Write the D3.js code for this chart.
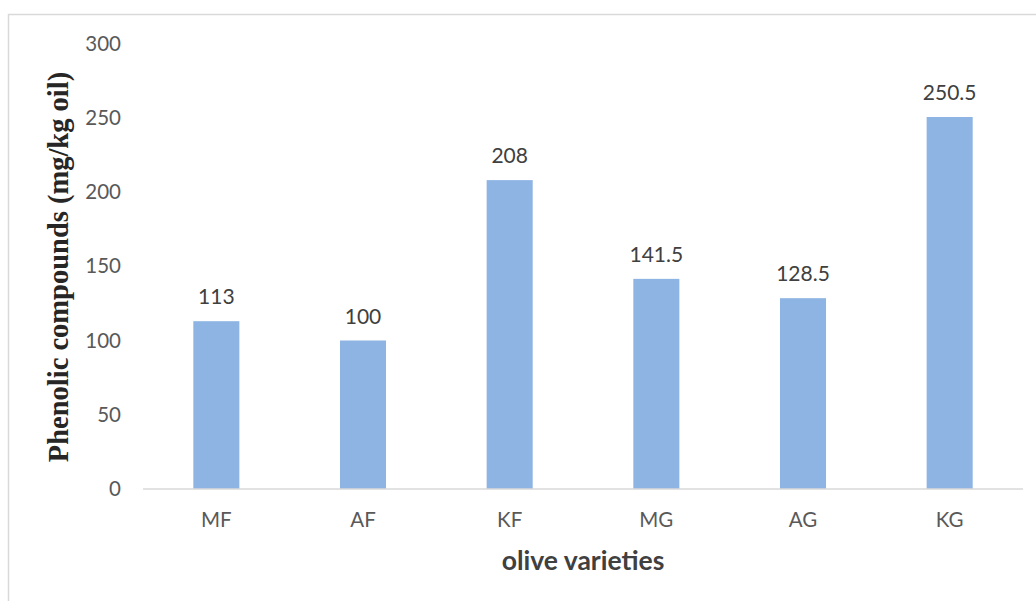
<!DOCTYPE html>
<html>
<head>
<meta charset="utf-8">
<script src="https://cdn.jsdelivr.net/npm/d3@7"></script>
<style>
  body { margin: 0; background: #fff; }
  svg { display: block; }
</style>
</head>
<body>
<svg id="chart" width="1036" height="601"></svg>
<script>
// chart data
const categories = ["MF", "AF", "KF", "MG", "AG", "KG"];
const values = [113, 100, 208, 141.5, 128.5, 250.5];
const yTicks = [0, 50, 100, 150, 200, 250, 300];

const svg = d3.select("#chart");
const margin = {left: 143, right: 13, top: 43.5, bottom: 112};
const W = 1036, H = 601;

// outer chart border
svg.append("rect")
    .attr("x", 8.5).attr("y", 14.5)
    .attr("width", 1040).attr("height", 600)
    .attr("fill", "none")
    .attr("stroke", "#d9d9d9")
    .attr("stroke-width", 1.5);

let x = d3.scaleBand()
    .domain(categories)
    .range([margin.left, W - margin.right])
    .paddingInner(0.686)
    .paddingOuter(0.343);

let y = d3.scaleLinear()
    .domain([0, 300])
    .range([H - margin.bottom, margin.top]);

// y tick labels (no gridlines)
svg.append("g")
    .selectAll("text")
    .data(yTicks)
    .join("text")
    .attr("x", 121)
    .attr("y", d => y(d))
    .attr("dy", "0.35em")
    .attr("text-anchor", "end")
    .attr("font-family", "Lato, 'Open Sans', sans-serif")
    .attr("font-size", 20.5)
    .attr("fill", "#595959")
    .text(d => d);

// bars
svg.append("g")
    .selectAll("rect")
    .data(values)
    .join("rect")
    .attr("x", (d, i) => x(categories[i]))
    .attr("y", d => y(d))
    .attr("width", x.bandwidth())
    .attr("height", d => y(0) - y(d))
    .attr("fill", "#8eb4e3");

// value labels
svg.append("g")
    .selectAll("text")
    .data(values)
    .join("text")
    .attr("x", (d, i) => x(categories[i]) + x.bandwidth() / 2)
    .attr("y", d => y(d) - 17)
    .attr("text-anchor", "middle")
    .attr("font-family", "Lato, 'Open Sans', sans-serif")
    .attr("font-size", 21)
    .attr("fill", "#404040")
    .text(d => d);

// x axis line
svg.append("line")
    .attr("x1", margin.left).attr("x2", W - margin.right)
    .attr("y1", y(0)).attr("y2", y(0))
    .attr("stroke", "#d9d9d9")
    .attr("stroke-width", 1.5);

// category labels
svg.append("g")
    .selectAll("text")
    .data(categories)
    .join("text")
    .attr("x", d => x(d) + x.bandwidth() / 2)
    .attr("y", 527)
    .attr("text-anchor", "middle")
    .attr("font-family", "Lato, 'Open Sans', sans-serif")
    .attr("font-size", 20.5)
    .attr("fill", "#595959")
    .text(d => d);

// axis titles
svg.append("text")
    .attr("x", 583)
    .attr("y", 570)
    .attr("text-anchor", "middle")
    .attr("font-family", "Lato, 'Open Sans', sans-serif")
    .attr("font-weight", "bold")
    .attr("font-size", 26.5)
    .attr("fill", "#404040")
    .text("olive varieties");

svg.append("text")
    .attr("transform", "translate(68,267) rotate(-90)")
    .attr("text-anchor", "middle")
    .attr("font-family", "'Liberation Serif', 'Times New Roman', serif")
    .attr("font-weight", "bold")
    .attr("font-size", 28.5)
    .attr("fill", "#262626")
    .text("Phenolic compounds (mg/kg oil)");
</script>
</body>
</html>
